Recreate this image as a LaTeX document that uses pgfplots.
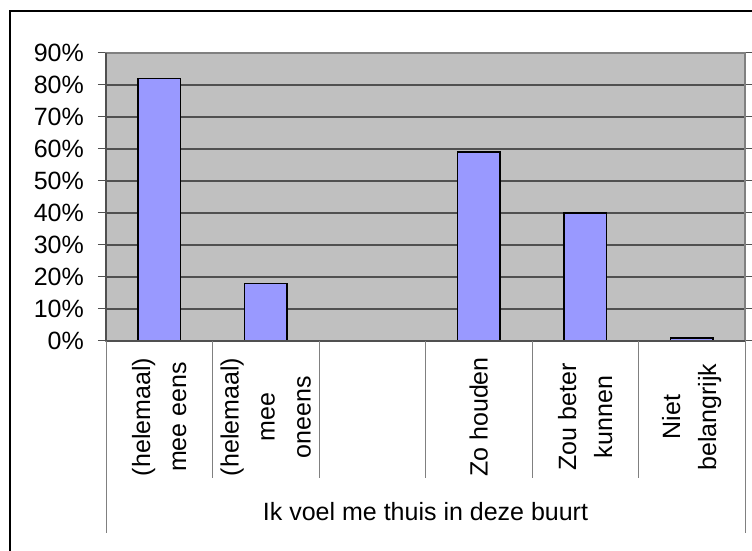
\documentclass[border=0pt]{standalone}
\usepackage{fontspec}
\setmainfont{Liberation Sans}
\usepackage{pgfplots}
\pgfplotsset{compat=1.18}
\definecolor{plotgrey}{HTML}{C0C0C0}
\definecolor{barblue}{HTML}{9999FF}
\definecolor{gridc}{HTML}{505050}
\definecolor{sepc}{HTML}{808080}
\newcommand\lf{\fontsize{25bp}{36bp}\selectfont}
\begin{document}
\begin{tikzpicture}[x=1bp,y=1bp]
\useasboundingbox (0,0) rectangle (752,551);
\draw[line width=2bp] (10,0) -- (10,540) -- (752,540);
\begin{axis}[
  at={(106bp,210bp)}, anchor=south west,
  scale only axis, width=639bp, height=288bp,
  xmin=-0.5, xmax=5.5, ymin=0, ymax=90,
  axis background/.style={fill=plotgrey},
  axis line style={draw=sepc, line width=1.5bp},
  xtick=\empty,
  ytick={0,10,...,90},
  ymajorgrids,
  major grid style={draw=gridc, line width=1.2bp},
  tick align=outside,
  major tick length=8bp,
  tick style={draw=gridc, line width=1bp},
  yticklabel={\pgfmathprintnumber{\tick}\%},
  /pgf/number format/assume math mode=true,
  yticklabel style={font=\lf, inner sep=0pt, xshift=-14bp},
  clip=false,
]
\addplot[ybar, bar width=0.4, fill=barblue, draw=black, line width=1.6bp]
  coordinates {(0,82) (1,18) (3,59) (4,40) (5,1)};
\end{axis}
\draw[gridc, line width=1.5bp] (106,210) -- (106,498);
\draw[gridc, line width=1.5bp] (106,210) -- (745,210);
\begin{scope}[draw=sepc, line width=1bp]
\draw (106,210) -- (106,18);
\draw (745,210) -- (745,18);
\foreach \x in {212.5,319,425.5,532,638.5} {\draw (\x,210) -- (\x,73);}
\end{scope}
\begin{scope}[every node/.style={rotate=90, align=center, font=\lf, inner sep=0pt}]
\node at (159.25,134) {(helemaal)\\mee eens};
\node at (265.75,134) {(helemaal)\\mee\\oneens};
\node at (478.75,134) {Zo houden};
\node at (585.25,134) {Zou beter\\kunnen};
\node at (691.75,134) {Niet\\belangrijk};
\end{scope}
\node[font=\lf, inner sep=0pt] at (425.5,39) {Ik voel me thuis in deze buurt};
\end{tikzpicture}
\end{document}
